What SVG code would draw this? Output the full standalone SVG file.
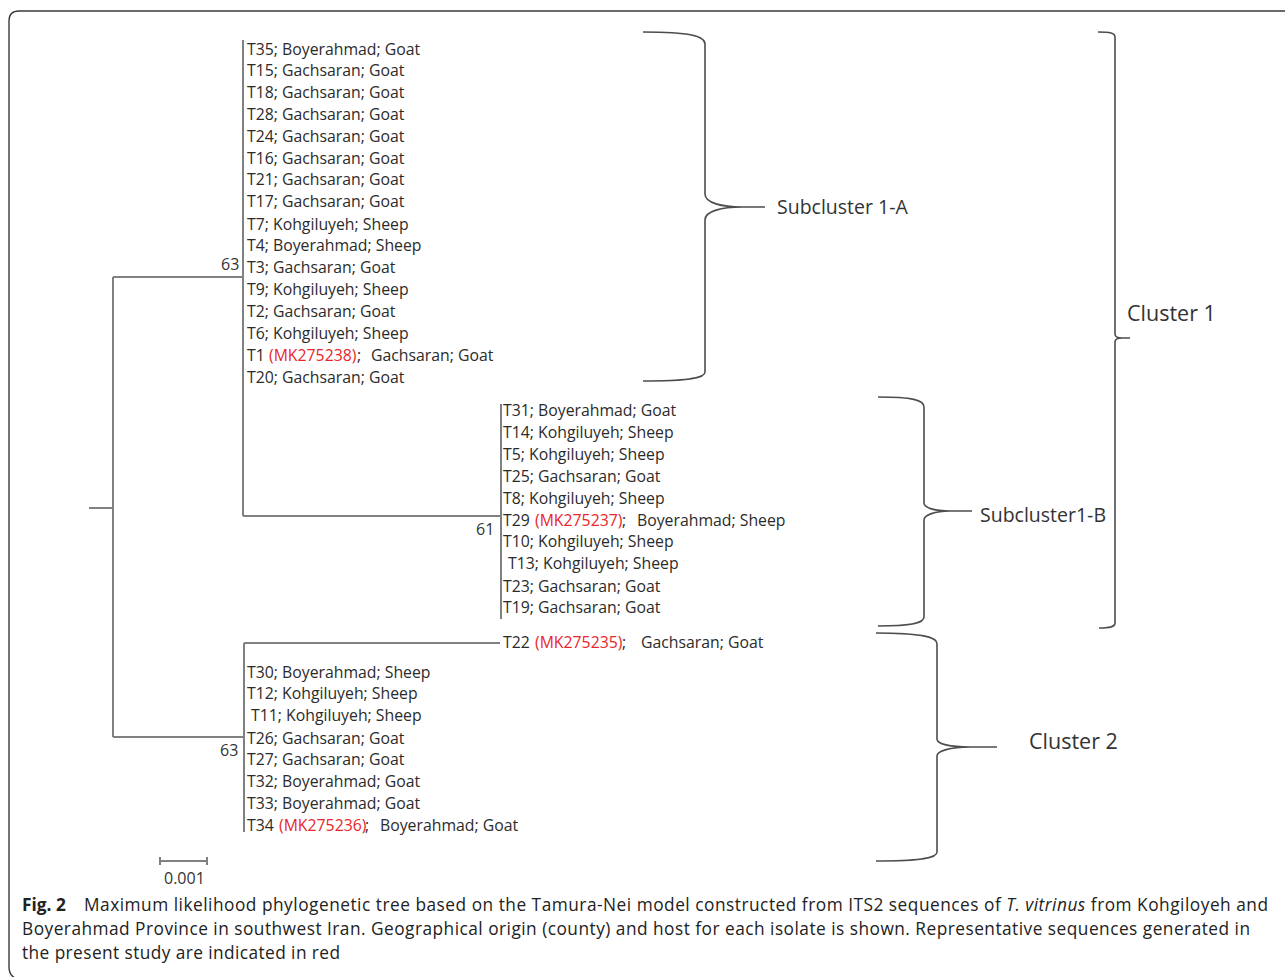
<svg xmlns="http://www.w3.org/2000/svg" width="1285" height="977" viewBox="0 0 1285 977">
<style>
.lbl{font-family:"Open Sans","Liberation Sans",sans-serif;font-size:15.8px;fill:#2b2b2b}
.red{fill:#e8262b}
.bs{font-family:"Open Sans","Liberation Sans",sans-serif;font-size:16px;fill:#333}
.br{fill:none;stroke:#4d4d4d;stroke-width:1.6}
.tr{fill:none;stroke:#808080;stroke-width:2}
.cl{font-family:"Open Sans","Liberation Sans",sans-serif;fill:#333}
.cap{font-family:"Open Sans","Liberation Sans",sans-serif;font-size:17.3px;fill:#222}
</style>
<rect width="1285" height="977" fill="#fff"/>
<path d="M1290 11 H19 Q9 11 9 21 V967 Q9 975 15 978" fill="none" stroke="#3a3a3a" stroke-width="1.4"/>

<g id="connectors">
<path class="tr" d="M89 508 H113 M113 277 V737 M113 277 H243 M243 40 V516 M243 516 H501 M501 404 V619 M113 737 H244 M244 643 V832 M244 643 H500"/>
<path class="tr" d="M160 861 H207 M160 857 V865 M207 857 V865" stroke-width="1.6"/>
</g>

<g id="support">
<text class="bs" x="221" y="270">63</text>
<text class="bs" x="476" y="535">61</text>
<text class="bs" x="220" y="756">63</text>
<text class="bs" x="164" y="884" fill="#555" font-size="14px">0.001</text>
</g>

<g id="subcluster-1A-leaves">
<text class="lbl" x="247" y="55">T35; Boyerahmad; Goat</text>
<text class="lbl" x="247" y="76">T15; Gachsaran; Goat</text>
<text class="lbl" x="247" y="98">T18; Gachsaran; Goat</text>
<text class="lbl" x="247" y="120">T28; Gachsaran; Goat</text>
<text class="lbl" x="247" y="142">T24; Gachsaran; Goat</text>
<text class="lbl" x="247" y="164">T16; Gachsaran; Goat</text>
<text class="lbl" x="247" y="185">T21; Gachsaran; Goat</text>
<text class="lbl" x="247" y="207">T17; Gachsaran; Goat</text>
<text class="lbl" x="247" y="230">T7; Kohgiluyeh; Sheep</text>
<text class="lbl" x="247" y="251">T4; Boyerahmad; Sheep</text>
<text class="lbl" x="247" y="273">T3; Gachsaran; Goat</text>
<text class="lbl" x="247" y="295">T9; Kohgiluyeh; Sheep</text>
<text class="lbl" x="247" y="317">T2; Gachsaran; Goat</text>
<text class="lbl" x="247" y="339">T6; Kohgiluyeh; Sheep</text>
<text class="lbl" x="247" y="361">T1 <tspan class="red" x="269">(MK275238)</tspan><tspan x="357">;</tspan><tspan x="371">Gachsaran; Goat</tspan></text>
<text class="lbl" x="247" y="383">T20; Gachsaran; Goat</text>
</g>

<g id="subcluster-1B-leaves">
<text class="lbl" x="503" y="416">T31; Boyerahmad; Goat</text>
<text class="lbl" x="503" y="438">T14; Kohgiluyeh; Sheep</text>
<text class="lbl" x="503" y="460">T5; Kohgiluyeh; Sheep</text>
<text class="lbl" x="503" y="482">T25; Gachsaran; Goat</text>
<text class="lbl" x="503" y="504">T8; Kohgiluyeh; Sheep</text>
<text class="lbl" x="503" y="526">T29 <tspan class="red" x="535">(MK275237)</tspan><tspan x="622">;</tspan><tspan x="637">Boyerahmad; Sheep</tspan></text>
<text class="lbl" x="503" y="547">T10; Kohgiluyeh; Sheep</text>
<text class="lbl" x="508" y="569">T13; Kohgiluyeh; Sheep</text>
<text class="lbl" x="503" y="592">T23; Gachsaran; Goat</text>
<text class="lbl" x="503" y="613">T19; Gachsaran; Goat</text>
</g>

<g id="cluster-2-leaves">
<text class="lbl" x="503" y="648">T22 <tspan class="red" x="535">(MK275235)</tspan><tspan x="622">;</tspan><tspan x="641">Gachsaran; Goat</tspan></text>
<text class="lbl" x="247" y="678">T30; Boyerahmad; Sheep</text>
<text class="lbl" x="247" y="699">T12; Kohgiluyeh; Sheep</text>
<text class="lbl" x="251" y="721">T11; Kohgiluyeh; Sheep</text>
<text class="lbl" x="247" y="744">T26; Gachsaran; Goat</text>
<text class="lbl" x="247" y="765">T27; Gachsaran; Goat</text>
<text class="lbl" x="247" y="787">T32; Boyerahmad; Goat</text>
<text class="lbl" x="247" y="809">T33; Boyerahmad; Goat</text>
<text class="lbl" x="247" y="831">T34 <tspan class="red" x="279">(MK275236)</tspan><tspan x="365">;</tspan><tspan x="380">Boyerahmad; Goat</tspan></text>
</g>

<g id="brace-subcluster-1A">
<path class="br" d="M643 32 C690 32 705 36 705 44 V194 C705 203 722 207 742 207 C722 207 705 211 705 220 V372 C705 378 690 381 643 381 M742 207 H765"/>
<text class="cl" x="777" y="214" font-size="19.5px">Subcluster 1-A</text>
</g>
<g id="brace-subcluster-1B">
<path class="br" d="M878 397 C912 397 924 400 924 407 V503 C924 508 935 511 950 511 C935 511 924 515 924 520 V617 C924 623 912 626 878 626 M950 511 H972"/>
<text class="cl" x="980" y="522" font-size="19.5px">Subcluster1-B</text>
</g>
<g id="bracket-cluster-1">
<path class="br" d="M1098 32 C1110 32 1115 33 1115 37 V334 C1115 337 1118 338 1122 338 C1118 338 1115 339 1115 342 V623 C1115 627 1110 628 1099 628 M1122 338 H1130"/>
<text class="cl" x="1127" y="321" font-size="21.5px">Cluster 1</text>
</g>
<g id="brace-cluster-2">
<path class="br" d="M876 633 C922 633 937 637 937 644 V739 C937 744 950 747 970 747 C950 747 937 751 937 756 V852 C937 858 922 861 876 861 M970 747 H997"/>
<text class="cl" x="1029" y="749" font-size="21.5px">Cluster 2</text>
</g>

<g id="caption">
<text class="cap" x="22" y="911" font-weight="bold" font-size="18.5px">Fig. 2</text>
<text class="cap" x="84" y="911" textLength="1184">Maximum likelihood phylogenetic tree based on the Tamura-Nei model constructed from ITS2 sequences of <tspan font-style="italic">T. vitrinus</tspan> from Kohgiloyeh and</text>
<text class="cap" x="22" y="935" textLength="1228">Boyerahmad Province in southwest Iran. Geographical origin (county) and host for each isolate is shown. Representative sequences generated in</text>
<text class="cap" x="22" y="959" textLength="318">the present study are indicated in red</text>
</g>
</svg>
